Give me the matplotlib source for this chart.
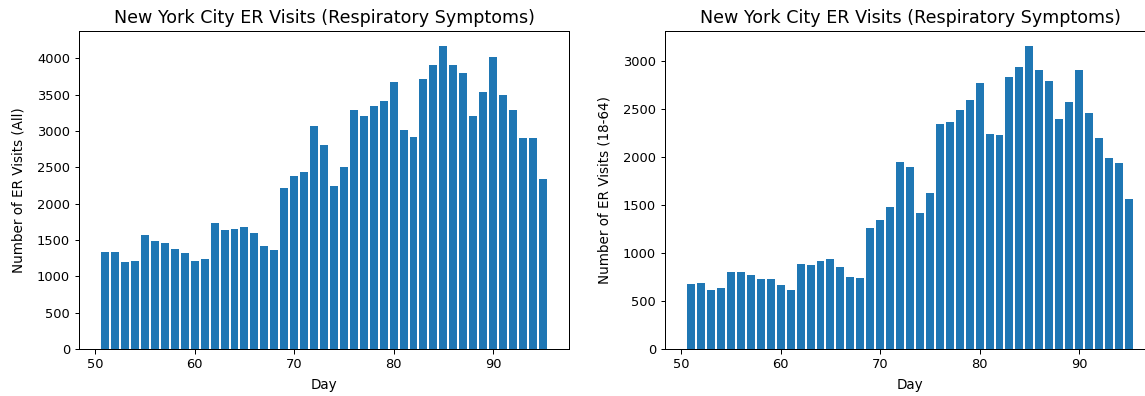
import matplotlib
matplotlib.use("Agg")
from matplotlib import pyplot as plt
import numpy as np

# days 51..95
days = np.arange(51, 96)

visits_all = [1335, 1335, 1193, 1216, 1573, 1491, 1454, 1372, 1316, 1216,
              1234, 1738, 1633, 1656, 1674, 1596, 1413, 1358, 2220, 2381,
              2440, 3064, 2803, 2243, 2504, 3284, 3202, 3344, 3408, 3683,
              3009, 2922, 3711, 3908, 4170, 3908, 3807, 3202, 3532, 4027,
              3504, 3284, 2904, 2904, 2339]

visits_18_64 = [677, 691, 615, 632, 799, 799, 767, 726, 726, 663,
                615, 889, 875, 920, 934, 858, 753, 740, 1257, 1344,
                1483, 1951, 1892, 1420, 1621, 2347, 2361, 2486, 2590, 2774,
                2243, 2226, 2837, 2941, 3156, 2910, 2788, 2392, 2576, 2910,
                2455, 2194, 1986, 1937, 1559]

# reference looks like the notebook default scaled ~1.3x
plt.rcParams.update({
    'font.size': 13,
    'xtick.labelsize': 13,
    'ytick.labelsize': 13,
    'axes.labelsize': 13.5,
    'axes.titlesize': 17.5,
    'xtick.major.size': 4.5,
    'ytick.major.size': 4.5,
    'xtick.major.pad': 4.5,
    'ytick.major.pad': 4.5,
    'xtick.major.width': 1.0,
    'ytick.major.width': 1.0,
    'axes.linewidth': 1.0,
})

W, H = 1145, 396
fig = plt.figure(figsize=(W / 72, H / 72), dpi=72)
ax1 = fig.add_axes([79 / W, (H - 349) / H, 490 / W, 318 / H])
ax2 = fig.add_axes([665 / W, (H - 349) / H, 490 / W, 318 / H])

title = 'New York City ER Visits (Respiratory Symptoms)'
for ax, vals, lab in [(ax1, visits_all, 'Number of ER Visits (All)'),
                      (ax2, visits_18_64, 'Number of ER Visits (18-64)')]:
    ax.bar(days, vals, color='#1f77b4')
    ax.set_title(title, pad=8)
    ax.set_xlabel('Day', labelpad=7)
    ax.set_ylabel(lab, labelpad=11)

fig.savefig('out.png', dpi=72)
